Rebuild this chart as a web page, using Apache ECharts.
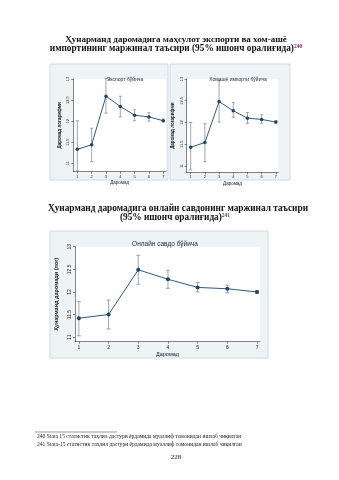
<!DOCTYPE html>
<html><head><meta charset="utf-8">
<script src="https://cdn.jsdelivr.net/npm/echarts@6/dist/echarts.min.js"></script>
<style>html,body{margin:0;padding:0;background:#fff}#c{width:339px;height:480px}</style>
</head><body><div id="c"></div>
<script>
const categories = [1, 2, 3, 4, 5, 6, 7];
const xTicks = [1, 2, 3, 4, 5, 6, 7];
const yTicks = [11, 11.5, 12, 12.5, 13];

const exportMean = [11.33, 11.44, 12.59, 12.35, 12.14, 12.10, 12.01];
const exportLow  = [10.82, 11.04, 12.19, 12.10, 12.01, 12.00, 11.98];
const exportHigh = [12.01, 11.83, 13.01, 12.59, 12.27, 12.20, 12.05];

const importMean = [11.43, 11.54, 12.48, 12.27, 12.10, 12.07, 12.01];
const importLow  = [10.91, 11.10, 12.01, 12.12, 11.98, 11.98, 11.98];
const importHigh = [12.00, 11.97, 12.96, 12.46, 12.23, 12.18, 12.04];

const onlineMean = [11.42, 11.50, 12.49, 12.28, 12.10, 12.07, 12.00];
const onlineLow  = [11.03, 11.18, 12.17, 12.08, 12.00, 11.98, 11.97];
const onlineHigh = [11.79, 11.82, 12.81, 12.48, 12.21, 12.15, 12.03];

const NAVY = '#1a476f';
const ERR = '#6f8296';
const FRAME_FILL = '#eef3f6';
const FRAME_LINE = '#c3d3e3';
const SERIF = '"Liberation Serif", "DejaVu Serif", serif';
const SANS = '"Liberation Sans", Arial, sans-serif';

const chart = echarts.init(document.getElementById('c'), null, {renderer: 'canvas'});

function xAxisCfg(gi, min, max, fs) {
  return {
    type: 'value', gridIndex: gi, min: min, max: max,
    name: 'Даромад', nameLocation: 'middle', nameGap: fs + 4,
    nameTextStyle: {fontSize: fs, fontFamily: SANS, color: '#222'},
    axisLine: {show: true, onZero: false, lineStyle: {color: '#333', width: 0.6}},
    axisTick: {show: true, length: 2, customValues: xTicks, lineStyle: {color: '#333', width: 0.6}},
    axisLabel: {customValues: xTicks, fontSize: fs - 0.5, fontFamily: SANS, color: '#222', margin: 3},
    splitLine: {show: false}
  };
}
function yAxisCfg(gi, min, max, fs, name) {
  return {
    type: 'value', gridIndex: gi, min: min, max: max,
    name: name, nameLocation: 'middle', nameGap: fs + 7,
    nameRotate: 90,
    nameTextStyle: {fontSize: fs, fontFamily: SANS, color: '#222', fontWeight: 'bold'},
    axisLine: {show: true, lineStyle: {color: '#333', width: 0.6}},
    axisTick: {show: true, length: 2, customValues: yTicks, lineStyle: {color: '#333', width: 0.6}},
    axisLabel: {customValues: yTicks, rotate: 90, fontSize: fs - 0.5, fontFamily: SANS, color: '#222', margin: 3},
    splitLine: {show: false}
  };
}
function errSeries(gi, low, high, cap, color) {
  return {
    type: 'custom', xAxisIndex: gi, yAxisIndex: gi,
    data: categories.map((c, i) => [c, low[i], high[i]]),
    encode: {x: 0, y: [1, 2]},
    silent: true, z: 2,
    renderItem: function (params, api) {
      const x = api.value(0);
      const p1 = api.coord([x, api.value(1)]);
      const p2 = api.coord([x, api.value(2)]);
      const st = {stroke: color, lineWidth: 0.7};
      return {type: 'group', children: [
        {type: 'line', shape: {x1: p1[0], y1: p1[1], x2: p2[0], y2: p2[1]}, style: st},
        {type: 'line', shape: {x1: p1[0] - cap, y1: p1[1], x2: p1[0] + cap, y2: p1[1]}, style: st},
        {type: 'line', shape: {x1: p2[0] - cap, y1: p2[1], x2: p2[0] + cap, y2: p2[1]}, style: st}
      ]};
    }
  };
}
function lineSeries(gi, vals, sym) {
  return {
    type: 'line', xAxisIndex: gi, yAxisIndex: gi,
    data: categories.map((c, i) => [c, vals[i]]),
    symbol: 'circle', symbolSize: sym, z: 3,
    lineStyle: {color: NAVY, width: 0.9},
    itemStyle: {color: NAVY},
    animation: false
  };
}
const supStyle = {fontFamily: SERIF, fontSize: 5.5, fontWeight: 'bold', color: '#7a2a6a', verticalAlign: 'top', padding: [0, 0, 5, 0]};

const option = {
  animation: false,
  backgroundColor: '#fff',
  title: [
    {text: 'Ҳунарманд даромадига маҳсулот экспорти ва хом-ашё', left: 171, top: 30, textAlign: 'center',
     textStyle: {fontFamily: SERIF, fontSize: 9, fontWeight: 'bold', color: '#111'}},
    {text: 'импортининг маржинал таъсири (95% ишонч оралиғида){s|240}', left: 171, top: 38.5, textAlign: 'center',
     textStyle: {fontFamily: SERIF, fontSize: 9.3, fontWeight: 'bold', color: '#111', rich: {s: supStyle}}},
    {text: 'Ҳунарманд даромадига онлайн савдонинг маржинал таъсири', left: 173, top: 199, textAlign: 'center',
     textStyle: {fontFamily: SERIF, fontSize: 9.3, fontWeight: 'bold', color: '#111'}},
    {text: '(95% ишонч оралиғида){s|241}', left: 170, top: 207.5, textAlign: 'center',
     textStyle: {fontFamily: SERIF, fontSize: 9.3, fontWeight: 'bold', color: '#111', rich: {s: supStyle}}},
    {text: 'Экспорт бўйича', left: 120, top: 72, textAlign: 'center',
     textStyle: {fontFamily: SANS, fontSize: 5, fontWeight: 'normal', color: '#1a2a3a'}},
    {text: 'Хомашё импорти бўйича', left: 233, top: 72, textAlign: 'center',
     textStyle: {fontFamily: SANS, fontSize: 5, fontWeight: 'normal', color: '#1a2a3a'}},
    {text: 'Онлайн савдо бўйича', left: 160, top: 236, textAlign: 'center',
     textStyle: {fontFamily: SANS, fontSize: 6.5, fontWeight: 'normal', color: '#1a2a3a'}},
    {text: '228', left: 171, top: 449, textAlign: 'center',
     textStyle: {fontFamily: SERIF, fontSize: 7, fontWeight: 'normal', color: '#222'}}
  ],
  graphic: [
    {type: 'rect', shape: {x: 50, y: 64, width: 118, height: 116}, style: {fill: FRAME_FILL, stroke: FRAME_LINE, lineWidth: 0.8}, z: -10},
    {type: 'rect', shape: {x: 170, y: 64, width: 120, height: 116}, style: {fill: FRAME_FILL, stroke: FRAME_LINE, lineWidth: 0.8}, z: -10},
    {type: 'rect', shape: {x: 50, y: 231, width: 218, height: 127}, style: {fill: FRAME_FILL, stroke: FRAME_LINE, lineWidth: 0.8}, z: -10},
    {type: 'line', shape: {x1: 35, y1: 432, x2: 117, y2: 432}, style: {stroke: '#333', lineWidth: 0.5}},
    {type: 'text', left: 37, top: 434, style: {text: '240 Stata 15 статистик таҳлил дастури ёрдамида муаллиф томонидан ишлаб чиқилган',
      font: '5.6px ' + SERIF, fill: '#222'}},
    {type: 'text', left: 37, top: 441.5, style: {text: '241 Stata-15 статистик таҳлил дастури ёрдамида муаллиф томонидан ишлаб чиқилган',
      font: '5.6px ' + SERIF, fill: '#222'}}
  ],
  grid: [
    {left: 73.3, top: 79, width: 92.7, height: 92.7, show: true, backgroundColor: '#fff', borderWidth: 0},
    {left: 186.7, top: 79, width: 91.6, height: 93.3, show: true, backgroundColor: '#fff', borderWidth: 0},
    {left: 75, top: 246.7, width: 185, height: 95, show: true, backgroundColor: '#fff', borderWidth: 0}
  ],
  xAxis: [
    xAxisCfg(0, 0.72, 7.19, 4.5),
    xAxisCfg(1, 0.72, 7.17, 4.5),
    xAxisCfg(2, 0.87, 7.1, 5.5)
  ],
  yAxis: [
    yAxisCfg(0, 10.80, 13.0, 4.5, 'Даромад логарифми'),
    yAxisCfg(1, 10.855, 13.0, 4.5, 'Даромад логарифми'),
    yAxisCfg(2, 10.90, 13.0, 5.5, 'Ҳунарманд даромади (лог)')
  ],
  series: [
    errSeries(0, exportLow, exportHigh, 1.5, ERR),
    lineSeries(0, exportMean, 3.5),
    errSeries(1, importLow, importHigh, 1.5, ERR),
    lineSeries(1, importMean, 3.5),
    errSeries(2, onlineLow, onlineHigh, 2, ERR),
    lineSeries(2, onlineMean, 4)
  ]
};
chart.setOption(option);
</script></body></html>
